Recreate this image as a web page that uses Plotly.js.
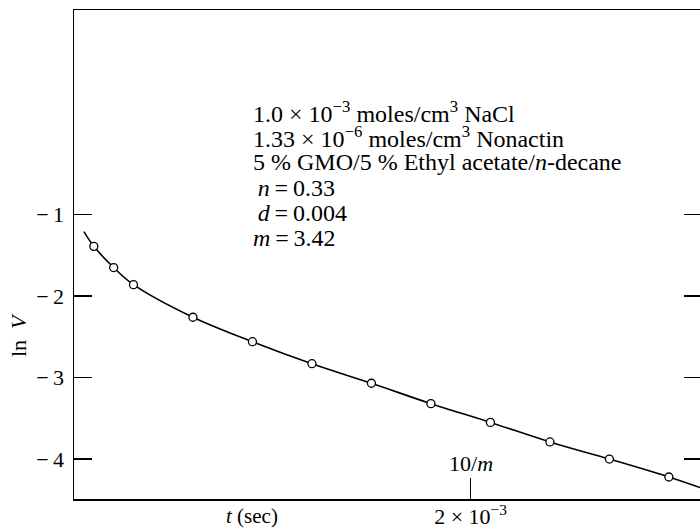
<!DOCTYPE html>
<html>
<head>
<meta charset="utf-8">
<script src="https://cdn.plot.ly/plotly-3.0.1.min.js"></script>
<style>html,body{margin:0;padding:0;background:#fff;}#chart{width:700px;height:530px;}</style>
</head>
<body>
<div id="chart"></div>
<script>
// Measured points: time (s) and ln V
const timeSec = [0.0001, 0.0002, 0.0003, 0.0006, 0.0009, 0.0012, 0.0015, 0.0018, 0.0021, 0.0024, 0.0027, 0.0030];
const lnV = [-1.39, -1.65, -1.86, -2.26, -2.56, -2.83, -3.07, -3.32, -3.55, -3.79, -4.00, -4.22];
// Fitted curve (including its ends)
const curveTime = [0.00005, 0.0001, 0.0002, 0.0003, 0.0006, 0.0009, 0.0012, 0.0015, 0.0018, 0.0021, 0.0024, 0.0027, 0.0030, 0.003157];
const curveLnV = [-1.21, -1.39, -1.65, -1.86, -2.26, -2.56, -2.83, -3.07, -3.32, -3.55, -3.79, -4.00, -4.22, -4.35];
const yTicks = [-1, -2, -3, -4];
const yTickText = ['−\u20091', '−\u20092', '−\u20093', '−\u20094'];
const xTickVals = [0.002];
const xTickText = ['2 × 10<sup>−3</sup>'];
const infoLines = [
  '1.0 × 10<sup>−3</sup> moles/cm<sup>3</sup> NaCl',
  '1.33 × 10<sup>−6</sup> moles/cm<sup>3</sup> Nonactin',
  '5 % GMO/5 % Ethyl acetate/<i>n</i>-decane',
  '\u2009<i>n</i>\u2009=\u20090.33',
  '\u2009<i>d</i>\u2009=\u20090.004',
  '<i>m</i>\u2009=\u20093.42'
];

const serif = 'Liberation Serif, Times New Roman, serif';

const traces = [
  {x: curveTime, y: curveLnV, mode: 'lines', line: {color: '#000', width: 1.6, shape: 'spline', smoothing: 1}, hoverinfo: 'skip', showlegend: false},
  {x: timeSec, y: lnV, mode: 'markers', marker: {symbol: 'circle', size: 8, color: '#fff', line: {color: '#000', width: 1.3}}, showlegend: false},
  {x: timeSec, y: lnV, yaxis: 'y2', mode: 'markers', marker: {opacity: 0}, hoverinfo: 'skip', showlegend: false}
];

// text block line layout (pixel centres converted to paper fraction)
const plotTop = 10, plotBottom = 499, plotH = plotBottom - plotTop;
const infoAnnotations = infoLines.map((t, i) => ({
  xref: 'paper', yref: 'paper', x: 0.282, y: (plotBottom - (112 + 25.2 * i)) / plotH,
  xanchor: 'left', yanchor: 'middle', align: 'left', showarrow: false,
  text: t, font: {family: serif, size: 24}
}));

const layout = {
  width: 700, height: 530,
  margin: {l: 74, r: 0, t: 10, b: 31},
  paper_bgcolor: '#fff', plot_bgcolor: '#fff',
  font: {family: serif, size: 22, color: '#000'},
  xaxis: {
    range: [0, 0.003157], showgrid: false, zeroline: false,
    showline: true, linecolor: '#000', linewidth: 1.5, mirror: true,
    ticks: 'inside', ticklen: 21, tickwidth: 1.5, tickcolor: '#000',
    tickmode: 'array', tickvals: xTickVals, ticktext: xTickText,
    ticklabelstandoff: -3,
    tickfont: {family: serif, size: 22}
  },
  yaxis: {
    range: [-4.49, 1.51], showgrid: false, zeroline: false,
    showline: true, linecolor: '#000', linewidth: 1.5,
    ticks: 'inside', ticklen: 18, tickwidth: 1.3, tickcolor: '#000',
    tickmode: 'array', tickvals: yTicks, ticktext: yTickText,
    ticklabelstandoff: 4,
    tickfont: {family: serif, size: 22}
  },
  yaxis2: {
    overlaying: 'y', side: 'right', range: [-4.49, 1.51],
    showgrid: false, zeroline: false, showline: false,
    ticks: 'inside', ticklen: 16, tickwidth: 1.3, tickcolor: '#000',
    tickmode: 'array', tickvals: yTicks, showticklabels: false
  },
  annotations: infoAnnotations.concat([
    {xref: 'x', yref: 'paper', x: xTickVals[0], y: 0, yshift: 36, xanchor: 'center', yanchor: 'middle',
     showarrow: false, text: '10/<i>m</i>', font: {family: serif, size: 22}},
    {xref: 'paper', yref: 'paper', x: 0.284, y: 0, yshift: -17, xanchor: 'center', yanchor: 'middle',
     showarrow: false, text: '<i>t</i> (sec)', font: {family: serif, size: 21}},
    {xref: 'paper', yref: 'paper', x: 0, xshift: -56, y: (plotBottom - 335) / plotH, xanchor: 'center', yanchor: 'middle',
     textangle: -90, showarrow: false, text: 'ln\u2002<i>V</i>', font: {family: serif, size: 22}}
  ])
};

Plotly.newPlot('chart', traces, layout, {displayModeBar: false, staticPlot: true});
</script>
</body>
</html>
